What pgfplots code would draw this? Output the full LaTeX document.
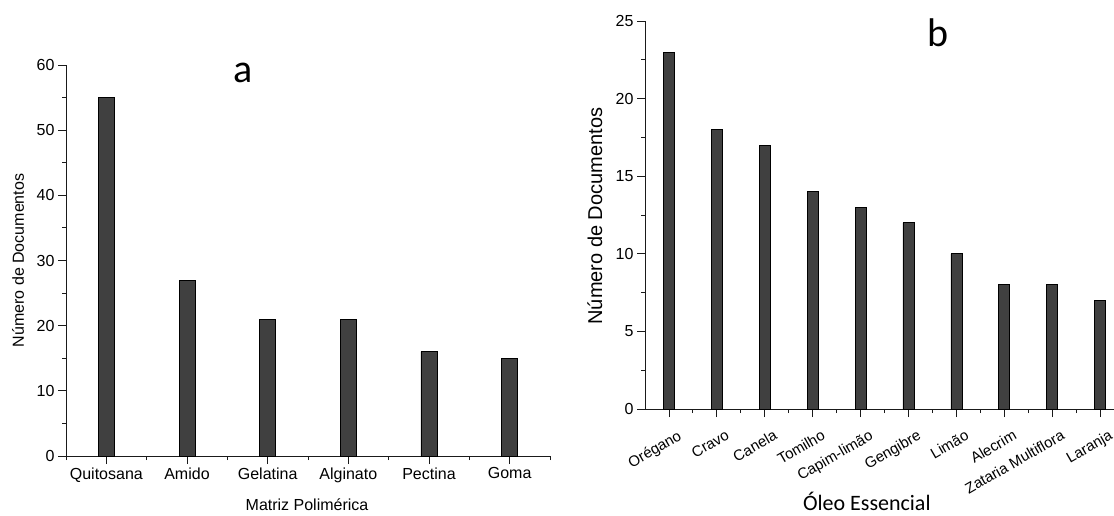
\documentclass[border=0pt]{standalone}
\usepackage{pgfplots}
\pgfplotsset{compat=1.18}
\usepackage{fontspec}
\setmainfont{Liberation Sans}
\newfontfamily\carlito{Carlito}
\definecolor{barfill}{HTML}{404040}
\definecolor{axcol}{HTML}{1A1A1A}
\newcommand\fa{\fontsize{16}{19}\selectfont}
\newcommand\fb{\fontsize{15}{18}\selectfont}
\pgfplotsset{
  myax/.style={
    scale only axis,
    axis x line=bottom, axis y line=left,
    axis line style={-, color=axcol, line width=0.9pt},
    tick align=outside,
    major tick length=8pt, minor tick length=4pt,
    every tick/.style={color=axcol, line width=0.9pt},
    /pgf/number format/assume math mode=true,
    ybar, bar width=16pt,
    clip=false,
  }
}
\begin{document}
\begin{tikzpicture}
\useasboundingbox (0,0) rectangle (1114pt,515pt);
% Panel a
\begin{axis}[myax,
  at={(66pt,59pt)}, anchor=south west,
  width=484pt, height=391pt,
  xmin=-0.5, xmax=5.5, ymin=0, ymax=60,
  xtick={0,...,5},
  xticklabels={Quitosana,Amido,Gelatina,Alginato,Pectina,Goma},
  minor xtick={-0.5,0.5,...,5.5},
  ytick={0,10,...,60},
  minor ytick={5,15,...,55},
  ticklabel style={font=\fa},
  xlabel={Matriz Polimérica},
  xlabel style={font=\fa, at={(axis description cs:0.498,-0.125)}, anchor=center},
  ylabel={Número de Documentos},
  ylabel style={font=\fa, at={(axis description cs:-0.099,0.5)}, anchor=center, rotate=0},
  title={a},
  title style={font=\carlito\fontsize{40}{44}\selectfont, at={(axis description cs:0.366,0.965)}, anchor=center},
]
\addplot[fill=barfill, draw=black, line width=0.8pt, bar width=16pt, bar shift=0pt]
  coordinates {(0,55) (1,27) (2,21) (3,21) (4,16) (5,15)};
\end{axis}
% Panel b
\begin{axis}[myax,
  at={(645pt,106pt)}, anchor=south west,
  width=469pt, height=388pt,
  xmin=-0.5, xmax=9.29, ymin=0, ymax=25,
  xtick={0,...,9},
  xticklabels={Orégano,Cravo,Canela,Tomilho,Capim-limão,Gengibre,Limão,Alecrim,Zataria Multiflora,Laranja},
  minor xtick={0.5,1.5,...,8.5},
  ytick={0,5,...,25},
  minor y tick num=1,
  yticklabel style={font=\fa},
  xticklabel style={font=\fb, inner sep=0pt, xshift=8pt, yshift=-12pt, rotate=30, anchor=north east},
  xlabel={Óleo Essencial},
  xlabel style={font=\carlito\fontsize{22}{26}\selectfont, inner sep=1pt, at={(axis description cs:0.473,-0.238)}, anchor=center},
  ylabel={Número de Documentos},
  ylabel style={font=\fontsize{20}{24}\selectfont, at={(axis description cs:-0.107,0.497)}, anchor=center},
  title={b},
  title style={font=\carlito\fontsize{40}{44}\selectfont, at={(axis description cs:0.625,0.955)}, anchor=center},
]
\addplot[fill=barfill, draw=black, line width=0.8pt, bar width=11pt, bar shift=0pt]
  coordinates {(0,23) (1,18) (2,17) (3,14) (4,13) (5,12) (6,10) (7,8) (8,8) (9,7)};
\end{axis}
\end{tikzpicture}
\end{document}
